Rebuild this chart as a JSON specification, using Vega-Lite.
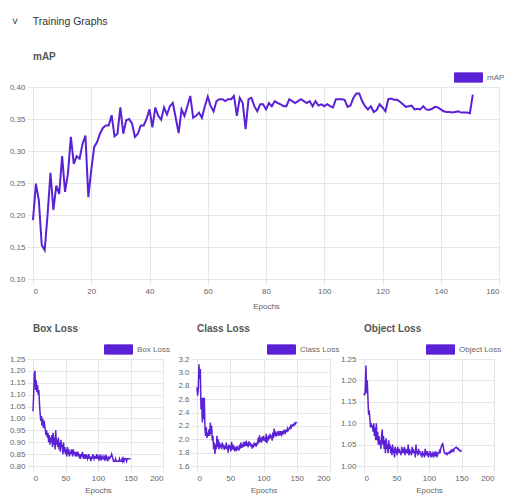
{
"$schema": "https://vega.github.io/schema/vega-lite/v6.json",
"padding": {"left": 9, "top": 16, "right": 2, "bottom": 2},
"background": "white",
"title": {"text": "˅\u00a0\u00a0\u00a0\u00a0\u00a0Training Graphs", "anchor": "start", "frame": "group", "dx": -21, "fontSize": 10.5, "fontWeight": "normal", "color": "#333", "offset": 25},
"datasets": {"train": [
{"epoch":0,"map":0.192,"box":1.03,"cls":2.78,"obj":1.17},
{"epoch":1,"map":0.249,"box":1.10,"cls":2.65,"obj":1.165},
{"epoch":2,"map":0.223,"box":1.19,"cls":2.75,"obj":1.18},
{"epoch":3,"map":0.153,"box":1.20,"cls":3.12,"obj":1.235},
{"epoch":4,"map":0.145,"box":1.12,"cls":2.90,"obj":1.17},
{"epoch":5,"map":0.200,"box":1.16,"cls":3.05,"obj":1.20},
{"epoch":6,"map":0.266,"box":1.11,"cls":2.45,"obj":1.16},
{"epoch":7,"map":0.208,"box":1.14,"cls":2.62,"obj":1.12},
{"epoch":8,"map":0.246,"box":1.10,"cls":2.25,"obj":1.13},
{"epoch":9,"map":0.233,"box":1.12,"cls":2.62,"obj":1.11},
{"epoch":10,"map":0.292,"box":1.06,"cls":2.30,"obj":1.09},
{"epoch":11,"map":0.236,"box":1.02,"cls":2.62,"obj":1.10},
{"epoch":12,"map":0.265,"box":0.99,"cls":2.15,"obj":1.09},
{"epoch":13,"map":0.322,"box":1.01,"cls":2.05,"obj":1.095},
{"epoch":14,"map":0.280,"box":0.97,"cls":2.18,"obj":1.08},
{"epoch":15,"map":0.292,"box":1.00,"cls":2.02,"obj":1.10},
{"epoch":16,"map":0.288,"box":0.96,"cls":2.10,"obj":1.07},
{"epoch":17,"map":0.311,"box":0.99,"cls":2.05,"obj":1.09},
{"epoch":18,"map":0.324,"box":0.97,"cls":2.15,"obj":1.06},
{"epoch":19,"map":0.228,"box":0.95,"cls":2.05,"obj":1.10},
{"epoch":20,"map":0.270,"box":0.93,"cls":2.25,"obj":1.06},
{"epoch":21,"map":0.306,"box":0.95,"cls":2.08,"obj":1.08},
{"epoch":22,"map":0.314,"box":0.92,"cls":2.20,"obj":1.05},
{"epoch":23,"map":0.327,"box":0.94,"cls":1.98,"obj":1.07},
{"epoch":24,"map":0.336,"box":0.90,"cls":2.05,"obj":1.05},
{"epoch":25,"map":0.340,"box":0.93,"cls":1.85,"obj":1.06},
{"epoch":26,"map":0.340,"box":0.89,"cls":1.95,"obj":1.04},
{"epoch":27,"map":0.356,"box":0.92,"cls":1.78,"obj":1.07},
{"epoch":28,"map":0.323,"box":0.90,"cls":1.92,"obj":1.085},
{"epoch":29,"map":0.327,"box":0.93,"cls":1.85,"obj":1.05},
{"epoch":30,"map":0.368,"box":0.88,"cls":2.05,"obj":1.07},
{"epoch":31,"map":0.327,"box":0.94,"cls":1.88,"obj":1.04},
{"epoch":32,"map":0.348,"box":0.89,"cls":2.00,"obj":1.06},
{"epoch":33,"map":0.350,"box":0.92,"cls":1.85,"obj":1.03},
{"epoch":34,"map":0.343,"box":0.87,"cls":1.95,"obj":1.065},
{"epoch":35,"map":0.322,"box":0.95,"cls":1.88,"obj":1.04},
{"epoch":36,"map":0.327,"box":0.89,"cls":1.92,"obj":1.05},
{"epoch":37,"map":0.340,"box":0.91,"cls":1.85,"obj":1.03},
{"epoch":38,"map":0.340,"box":0.88,"cls":1.95,"obj":1.06},
{"epoch":39,"map":0.350,"box":0.92,"cls":1.88,"obj":1.04},
{"epoch":40,"map":0.365,"box":0.87,"cls":1.92,"obj":1.05},
{"epoch":41,"map":0.337,"box":0.90,"cls":1.84,"obj":1.03},
{"epoch":42,"map":0.368,"box":0.86,"cls":1.90,"obj":1.045},
{"epoch":43,"map":0.355,"box":0.91,"cls":1.86,"obj":1.025},
{"epoch":44,"map":0.349,"box":0.88,"cls":1.95,"obj":1.05},
{"epoch":45,"map":0.368,"box":0.89,"cls":1.85,"obj":1.03},
{"epoch":46,"map":0.357,"box":0.85,"cls":1.90,"obj":1.04},
{"epoch":47,"map":0.370,"box":0.90,"cls":1.80,"obj":1.02},
{"epoch":48,"map":0.375,"box":0.86,"cls":1.92,"obj":1.045},
{"epoch":49,"map":0.352,"box":0.88,"cls":1.86,"obj":1.03},
{"epoch":50,"map":0.328,"box":0.85,"cls":1.90,"obj":1.04},
{"epoch":51,"map":0.365,"box":0.87,"cls":1.82,"obj":1.025},
{"epoch":52,"map":0.355,"box":0.84,"cls":1.96,"obj":1.045},
{"epoch":53,"map":0.370,"box":0.88,"cls":1.85,"obj":1.03},
{"epoch":54,"map":0.386,"box":0.85,"cls":1.92,"obj":1.04},
{"epoch":55,"map":0.352,"box":0.87,"cls":1.84,"obj":1.03},
{"epoch":56,"map":0.355,"box":0.84,"cls":1.90,"obj":1.035},
{"epoch":57,"map":0.360,"box":0.86,"cls":1.82,"obj":1.025},
{"epoch":58,"map":0.352,"box":0.85,"cls":1.88,"obj":1.045},
{"epoch":59,"map":0.370,"box":0.87,"cls":1.85,"obj":1.03},
{"epoch":60,"map":0.385,"box":0.86,"cls":1.90,"obj":1.04},
{"epoch":61,"map":0.370,"box":0.84,"cls":1.84,"obj":1.03},
{"epoch":62,"map":0.362,"box":0.87,"cls":1.88,"obj":1.045},
{"epoch":63,"map":0.378,"box":0.85,"cls":1.83,"obj":1.025},
{"epoch":64,"map":0.381,"box":0.86,"cls":1.92,"obj":1.04},
{"epoch":65,"map":0.381,"box":0.84,"cls":1.86,"obj":1.03},
{"epoch":66,"map":0.378,"box":0.86,"cls":1.95,"obj":1.035},
{"epoch":67,"map":0.381,"box":0.85,"cls":1.87,"obj":1.03},
{"epoch":68,"map":0.381,"box":0.84,"cls":1.92,"obj":1.05},
{"epoch":69,"map":0.386,"box":0.86,"cls":1.88,"obj":1.025},
{"epoch":70,"map":0.355,"box":0.85,"cls":1.96,"obj":1.04},
{"epoch":71,"map":0.383,"box":0.84,"cls":1.89,"obj":1.03},
{"epoch":72,"map":0.375,"box":0.85,"cls":1.93,"obj":1.035},
{"epoch":73,"map":0.334,"box":0.83,"cls":1.90,"obj":1.025},
{"epoch":74,"map":0.381,"box":0.85,"cls":1.98,"obj":1.045},
{"epoch":75,"map":0.383,"box":0.84,"cls":1.90,"obj":1.03},
{"epoch":76,"map":0.370,"box":0.86,"cls":1.95,"obj":1.04},
{"epoch":77,"map":0.362,"box":0.84,"cls":1.88,"obj":1.03},
{"epoch":78,"map":0.373,"box":0.83,"cls":1.97,"obj":1.035},
{"epoch":79,"map":0.373,"box":0.85,"cls":1.91,"obj":1.02},
{"epoch":80,"map":0.365,"box":0.84,"cls":1.95,"obj":1.05},
{"epoch":81,"map":0.375,"box":0.83,"cls":1.89,"obj":1.03},
{"epoch":82,"map":0.370,"box":0.85,"cls":1.93,"obj":1.035},
{"epoch":83,"map":0.378,"box":0.84,"cls":1.86,"obj":1.025},
{"epoch":84,"map":0.375,"box":0.83,"cls":1.92,"obj":1.04},
{"epoch":85,"map":0.373,"box":0.84,"cls":1.88,"obj":1.03},
{"epoch":86,"map":0.370,"box":0.85,"cls":1.95,"obj":1.035},
{"epoch":87,"map":0.370,"box":0.83,"cls":1.90,"obj":1.025},
{"epoch":88,"map":0.381,"box":0.84,"cls":1.94,"obj":1.03},
{"epoch":89,"map":0.378,"box":0.82,"cls":1.89,"obj":1.02},
{"epoch":90,"map":0.375,"box":0.84,"cls":1.95,"obj":1.035},
{"epoch":91,"map":0.378,"box":0.83,"cls":1.92,"obj":1.025},
{"epoch":92,"map":0.381,"box":0.85,"cls":2.02,"obj":1.03},
{"epoch":93,"map":0.378,"box":0.84,"cls":1.94,"obj":1.02},
{"epoch":94,"map":0.375,"box":0.83,"cls":2.06,"obj":1.04},
{"epoch":95,"map":0.378,"box":0.84,"cls":1.96,"obj":1.025},
{"epoch":96,"map":0.370,"box":0.84,"cls":2.02,"obj":1.03},
{"epoch":97,"map":0.378,"box":0.83,"cls":1.95,"obj":1.025},
{"epoch":98,"map":0.371,"box":0.85,"cls":2.04,"obj":1.035},
{"epoch":99,"map":0.373,"box":0.83,"cls":1.98,"obj":1.02},
{"epoch":100,"map":0.370,"box":0.84,"cls":2.05,"obj":1.03},
{"epoch":101,"map":0.373,"box":0.83,"cls":1.98,"obj":1.025},
{"epoch":102,"map":0.370,"box":0.84,"cls":2.02,"obj":1.035},
{"epoch":103,"map":0.368,"box":0.83,"cls":1.96,"obj":1.02},
{"epoch":104,"map":0.381,"box":0.84,"cls":2.08,"obj":1.03},
{"epoch":105,"map":0.381,"box":0.83,"cls":1.94,"obj":1.025},
{"epoch":106,"map":0.381,"box":0.84,"cls":2.04,"obj":1.03},
{"epoch":107,"map":0.380,"box":0.83,"cls":1.98,"obj":1.025},
{"epoch":108,"map":0.369,"box":0.83,"cls":2.06,"obj":1.03},
{"epoch":109,"map":0.371,"box":0.84,"cls":2.00,"obj":1.025},
{"epoch":110,"map":0.383,"box":0.83,"cls":2.08,"obj":1.03},
{"epoch":111,"map":0.390,"box":0.84,"cls":2.02,"obj":1.025},
{"epoch":112,"map":0.390,"box":0.83,"cls":2.06,"obj":1.03},
{"epoch":113,"map":0.378,"box":0.84,"cls":1.98,"obj":1.025},
{"epoch":114,"map":0.370,"box":0.83,"cls":2.10,"obj":1.03},
{"epoch":115,"map":0.365,"box":0.82,"cls":2.02,"obj":1.03},
{"epoch":116,"map":0.370,"box":0.84,"cls":2.16,"obj":1.035},
{"epoch":117,"map":0.361,"box":0.83,"cls":2.05,"obj":1.03},
{"epoch":118,"map":0.364,"box":0.83,"cls":2.12,"obj":1.04},
{"epoch":119,"map":0.373,"box":0.84,"cls":2.04,"obj":1.045},
{"epoch":120,"map":0.368,"box":0.84,"cls":2.10,"obj":1.05},
{"epoch":121,"map":0.362,"box":0.85,"cls":2.06,"obj":1.052},
{"epoch":122,"map":0.381,"box":0.84,"cls":2.12,"obj":1.045},
{"epoch":123,"map":0.382,"box":0.83,"cls":2.05,"obj":1.035},
{"epoch":124,"map":0.380,"box":0.82,"cls":2.10,"obj":1.03},
{"epoch":125,"map":0.380,"box":0.82,"cls":2.08,"obj":1.03},
{"epoch":126,"map":0.377,"box":0.82,"cls":2.12,"obj":1.028},
{"epoch":127,"map":0.373,"box":0.83,"cls":2.07,"obj":1.03},
{"epoch":128,"map":0.369,"box":0.82,"cls":2.10,"obj":1.027},
{"epoch":129,"map":0.370,"box":0.82,"cls":2.08,"obj":1.03},
{"epoch":130,"map":0.371,"box":0.82,"cls":2.12,"obj":1.03},
{"epoch":131,"map":0.365,"box":0.82,"cls":2.10,"obj":1.032},
{"epoch":132,"map":0.366,"box":0.82,"cls":2.14,"obj":1.03},
{"epoch":133,"map":0.365,"box":0.83,"cls":2.10,"obj":1.035},
{"epoch":134,"map":0.370,"box":0.82,"cls":2.13,"obj":1.033},
{"epoch":135,"map":0.365,"box":0.82,"cls":2.12,"obj":1.037},
{"epoch":136,"map":0.364,"box":0.82,"cls":2.16,"obj":1.035},
{"epoch":137,"map":0.366,"box":0.83,"cls":2.13,"obj":1.038},
{"epoch":138,"map":0.369,"box":0.82,"cls":2.15,"obj":1.035},
{"epoch":139,"map":0.368,"box":0.83,"cls":2.17,"obj":1.04},
{"epoch":140,"map":0.365,"box":0.82,"cls":2.16,"obj":1.042},
{"epoch":141,"map":0.362,"box":0.83,"cls":2.20,"obj":1.043},
{"epoch":142,"map":0.361,"box":0.83,"cls":2.18,"obj":1.044},
{"epoch":143,"map":0.361,"box":0.83,"cls":2.21,"obj":1.042},
{"epoch":144,"map":0.360,"box":0.82,"cls":2.20,"obj":1.04},
{"epoch":145,"map":0.361,"box":0.83,"cls":2.22,"obj":1.041},
{"epoch":146,"map":0.362,"box":0.83,"cls":2.21,"obj":1.038},
{"epoch":147,"map":0.360,"box":0.83,"cls":2.24,"obj":1.036},
{"epoch":148,"map":0.360,"box":0.83,"cls":2.23,"obj":1.035},
{"epoch":149,"map":0.360,"box":0.83,"cls":2.25,"obj":1.036},
{"epoch":150,"map":0.359,"box":0.83,"cls":2.24,"obj":1.034},
{"epoch":151,"map":0.388,"box":null,"cls":null,"obj":null}
]},
"data": {"name": "train"},
"bounds": "flush",
"spacing": 80,
"resolve": {"scale": {"color": "independent"}, "legend": {"color": "independent"}},
"vconcat": [
 {
  "title": {"text": "mAP"},
  "width": 466, "height": 192,
  "mark": {"type": "line", "strokeWidth": 2},
  "encoding": {
   "x": {"field": "epoch", "type": "quantitative", "scale": {"domain": [0, 160], "nice": false}, "axis": {"values": [0,20,40,60,80,100,120,140,160], "title": "Epochs", "titlePadding": 7}},
   "y": {"field": "map", "type": "quantitative", "scale": {"domain": [0.1, 0.4], "nice": false, "zero": false}, "axis": {"values": [0.1,0.15,0.2,0.25,0.3,0.35,0.4], "format": ".2f", "title": null}},
   "color": {"datum": "mAP", "scale": {"range": ["#5b21d6"]}, "legend": {"title": null, "orient": "none", "legendX": 421, "legendY": -24, "symbolType": "M-1,-0.33H1V0.33H-1Z", "symbolSize": 784}}
  }
 },
 {
  "bounds": "flush",
  "spacing": 34,
  "resolve": {"scale": {"color": "independent"}, "legend": {"color": "independent"}},
  "hconcat": [
   {
    "title": {"text": "Box Loss"},
    "width": 130, "height": 107,
    "mark": {"type": "line", "strokeWidth": 1.5},
    "encoding": {
     "x": {"field": "epoch", "type": "quantitative", "scale": {"domain": [0, 200], "nice": false}, "axis": {"values": [0,50,100,150,200], "title": "Epochs"}},
     "y": {"field": "box", "type": "quantitative", "scale": {"domain": [0.8, 1.25], "nice": false, "zero": false}, "axis": {"values": [0.8,0.85,0.9,0.95,1.0,1.05,1.1,1.15,1.2,1.25], "format": ".2f", "title": null}},
     "color": {"datum": "Box Loss", "scale": {"range": ["#5b21d6"]}, "legend": {"title": null, "orient": "none", "legendX": 71, "legendY": -24, "symbolType": "M-1,-0.33H1V0.33H-1Z", "symbolSize": 784}}
    }
   },
   {
    "title": {"text": "Class Loss"},
    "width": 133, "height": 107,
    "mark": {"type": "line", "strokeWidth": 1.5},
    "encoding": {
     "x": {"field": "epoch", "type": "quantitative", "scale": {"domain": [0, 200], "nice": false}, "axis": {"values": [0,50,100,150,200], "title": "Epochs"}},
     "y": {"field": "cls", "type": "quantitative", "scale": {"domain": [1.6, 3.2], "nice": false, "zero": false}, "axis": {"values": [1.6,1.8,2.0,2.2,2.4,2.6,2.8,3.0,3.2], "format": ".1f", "title": null}},
     "color": {"datum": "Class Loss", "scale": {"range": ["#5b21d6"]}, "legend": {"title": null, "orient": "none", "legendX": 70, "legendY": -24, "symbolType": "M-1,-0.33H1V0.33H-1Z", "symbolSize": 784}}
    }
   },
   {
    "title": {"text": "Object Loss"},
    "width": 130, "height": 107,
    "mark": {"type": "line", "strokeWidth": 1.5},
    "encoding": {
     "x": {"field": "epoch", "type": "quantitative", "scale": {"domain": [0, 200], "nice": false}, "axis": {"values": [0,50,100,150,200], "title": "Epochs"}},
     "y": {"field": "obj", "type": "quantitative", "scale": {"domain": [1.0, 1.25], "nice": false, "zero": false}, "axis": {"values": [1.0,1.05,1.1,1.15,1.2,1.25], "format": ".2f", "title": null}},
     "color": {"datum": "Object Loss", "scale": {"range": ["#5b21d6"]}, "legend": {"title": null, "orient": "none", "legendX": 62, "legendY": -24, "symbolType": "M-1,-0.33H1V0.33H-1Z", "symbolSize": 784}}
    }
   }
  ]
 }
],
"config": {
 "font": "Liberation Sans",
 "view": {"stroke": null},
 "axis": {"gridColor": "#e6e6e6", "tickColor": "#e6e6e6", "tickSize": 6, "domain": false, "labelColor": "#666", "labelFontSize": 8, "labelPadding": 2, "titleColor": "#666", "titleFontSize": 8, "titleFontWeight": "normal", "titlePadding": 4},
 "title": {"anchor": "start", "frame": "group", "fontSize": 10, "fontWeight": "bold", "color": "#555", "offset": 1},
 "legend": {"symbolFillColor": "#5b21d6", "symbolStrokeColor": "#5b21d6", "symbolStrokeWidth": 1, "symbolOpacity": 1, "labelFontSize": 8, "labelColor": "#666", "labelOffset": 4, "padding": 0}
}
}
